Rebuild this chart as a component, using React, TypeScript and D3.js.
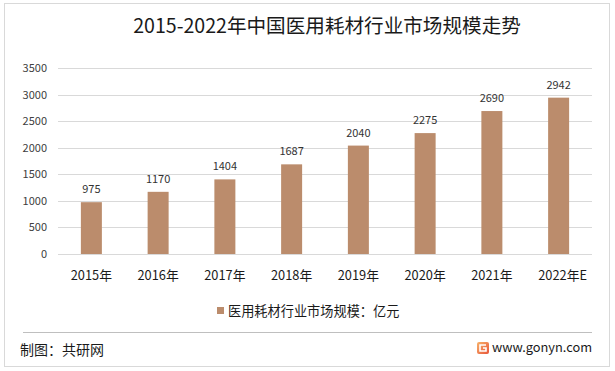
import React, { useEffect, useRef } from "react";
import * as d3 from "d3";

const years = ["2015年", "2016年", "2017年", "2018年", "2019年", "2020年", "2021年", "2022年E"];
const marketSize = [975, 1170, 1404, 1687, 2040, 2275, 2690, 2942];
const yTicks = [0, 500, 1000, 1500, 2000, 2500, 3000, 3500];

const FONT = "'Noto Sans CJK SC', 'Noto Sans', sans-serif";

export default function App() {
  const svgRef = useRef<SVGSVGElement | null>(null);

  useEffect(() => {
    const svg = d3.select(svgRef.current);
    svg.selectAll("*").remove();

    const W = 615;
    const H = 371;
    const left = 58, right = 592, top = 68, bottom = 254;

    // frame
    svg.append("rect")
      .attr("x", 4.5).attr("y", 3.5)
      .attr("width", W - 10).attr("height", H - 8)
      .attr("fill", "#fff").attr("stroke", "#d9d9d9");

    // title
    svg.append("text")
      .attr("x", 327).attr("y", 33)
      .attr("text-anchor", "middle")
      .attr("font-family", FONT)
      .attr("font-size", 19.6)
      .attr("fill", "#1a1a1a")
      .text("2015-2022年中国医用耗材行业市场规模走势");

    const x = d3.scaleBand().domain(years).range([left, right]);
    const y = d3.scaleLinear().domain([0, 3500]).range([bottom, top]);

    // gridlines
    svg.append("g")
      .selectAll("line")
      .data(yTicks)
      .join("line")
      .attr("x1", left).attr("x2", right)
      .attr("y1", (d) => Math.round(y(d)) + 0.5)
      .attr("y2", (d) => Math.round(y(d)) + 0.5)
      .attr("stroke", "#d9d9d9");

    // y tick labels
    svg.append("g")
      .selectAll("text")
      .data(yTicks)
      .join("text")
      .attr("x", 47)
      .attr("y", (d) => y(d) + 4)
      .attr("text-anchor", "end")
      .attr("font-family", FONT)
      .attr("font-size", 11)
      .attr("fill", "#404040")
      .text((d) => d);

    const bw = 21;
    // bars
    svg.append("g")
      .selectAll("rect")
      .data(marketSize)
      .join("rect")
      .attr("x", (_, i) => x(years[i])! + x.bandwidth() / 2 - bw / 2)
      .attr("y", (d) => y(d))
      .attr("width", bw)
      .attr("height", (d) => y(0) - y(d))
      .attr("fill", "#bb8c6c");

    // value labels
    svg.append("g")
      .selectAll("text")
      .data(marketSize)
      .join("text")
      .attr("x", (_, i) => x(years[i])! + x.bandwidth() / 2)
      .attr("y", (d) => y(d) - 9)
      .attr("text-anchor", "middle")
      .attr("font-family", FONT)
      .attr("font-size", 11)
      .attr("fill", "#333")
      .text((d) => d);

    // x labels
    svg.append("g")
      .selectAll("text")
      .data(years)
      .join("text")
      .attr("x", (d) => x(d)! + x.bandwidth() / 2 + (d.endsWith("E") ? 4 : 0))
      .attr("y", 280)
      .attr("text-anchor", "middle")
      .attr("font-family", FONT)
      .attr("font-size", 12.8)
      .attr("fill", "#1a1a1a")
      .text((d) => d);

    // legend
    svg.append("rect")
      .attr("x", 217).attr("y", 307)
      .attr("width", 7).attr("height", 7)
      .attr("fill", "#bb8c6c");
    svg.append("text")
      .attr("x", 228).attr("y", 316)
      .attr("font-family", FONT)
      .attr("font-size", 13.2)
      .attr("fill", "#1a1a1a")
      .text("医用耗材行业市场规模：亿元");

    // separator
    svg.append("line")
      .attr("x1", 23).attr("x2", 592)
      .attr("y1", 332.5).attr("y2", 332.5)
      .attr("stroke", "#bfbfbf");

    svg.append("text")
      .attr("x", 20).attr("y", 355)
      .attr("font-family", FONT)
      .attr("font-size", 14)
      .attr("fill", "#1a1a1a")
      .text("制图：共研网");

    // logo
    const defs = svg.append("defs");
    const grad = defs.append("linearGradient")
      .attr("id", "logo-grad")
      .attr("x1", "0%").attr("y1", "0%")
      .attr("x2", "100%").attr("y2", "100%");
    grad.append("stop").attr("offset", "0%").attr("stop-color", "#f7b26a");
    grad.append("stop").attr("offset", "100%").attr("stop-color", "#e8553a");
    svg.append("rect")
      .attr("x", 477).attr("y", 342)
      .attr("width", 12).attr("height", 12)
      .attr("rx", 2)
      .attr("fill", "url(#logo-grad)");
    svg.append("path")
      .attr("d", "M486,345 H480 V351 H486 V348 H483")
      .attr("fill", "none")
      .attr("stroke", "#fff")
      .attr("stroke-width", 1.6);
    svg.append("text")
      .attr("x", 492).attr("y", 352)
      .attr("font-family", FONT)
      .attr("font-size", 12.8)
      .attr("fill", "#1a1a1a")
      .text("www.gonyn.com");
  }, []);

  return (
    <svg
      ref={svgRef}
      width={615}
      height={371}
      style={{ position: "absolute", left: 0, top: 0, background: "#fff" }}
    />
  );
}
